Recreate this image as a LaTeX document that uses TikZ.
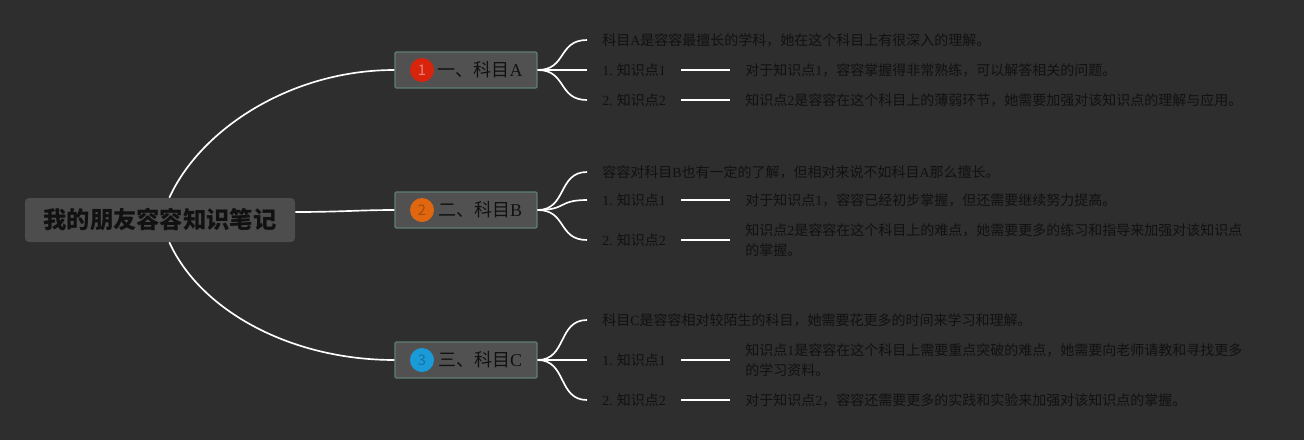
\documentclass[tikz,border=0pt]{standalone}
\usepackage{fontspec}
\setmainfont{Noto Sans CJK SC}
\newfontfamily\lat{Liberation Serif}
\newcommand\lt[1]{{\lat #1}}
\definecolor{bg}{HTML}{2E2E2E}
\definecolor{rootfill}{HTML}{4D4D4D}
\definecolor{boxfill}{HTML}{515151}
\definecolor{boxline}{HTML}{5E7F72}
\definecolor{txt}{HTML}{111111}
\definecolor{cA}{HTML}{D8230D}
\definecolor{cB}{HTML}{E0660F}
\definecolor{cC}{HTML}{1A9BD8}
\tikzset{
  rootbox/.style={fill=rootfill, rounded corners=3pt, minimum width=202.5pt, minimum height=33pt, font=\fontsize{17.5pt}{20pt}\selectfont\bfseries, text=txt},
  subbox/.style={fill=boxfill, draw=boxline, line width=0.9pt, rounded corners=1pt, minimum width=106.5pt, minimum height=27pt},
  subtext/.style={font=\fontsize{13.5pt}{16pt}\selectfont, text=txt, inner sep=0pt},
  badge/.style={circle, minimum size=18pt, inner sep=0pt, font=\fontsize{11pt}{12pt}\selectfont},
  leaf/.style={anchor=west, inner xsep=11.25pt, inner ysep=2pt, align=left, font=\fontsize{10.5pt}{15pt}\selectfont, text=txt},
  conn/.style={white, line width=1.25pt},
}
\begin{document}
\begin{tikzpicture}[x=0.75pt,y=-0.75pt]
\useasboundingbox (0,0) rectangle (1304,440);
\fill[bg] (0,0) rectangle (1304,440);

\node[rootbox] (root) at (160,220) {我的朋友容容知识笔记};

% branch boxes
\node[subbox] (bA) at (466,70) {};
\node[subbox] (bB) at (466,210) {};
\node[subbox] (bC) at (466,360) {};
\node[badge, fill=cA, text=cA!55!white] (nA) at (422,70) {1};
\node[badge, fill=cB, text=cB!75!black] (nB) at (422,210) {2};
\node[badge, fill=cC, text=cC!75!black] (nC) at (422,360) {3};
\node[subtext] (tA) at (480,70) {一、科目\lt{A}};
\node[subtext] (tB) at (480,210) {二、科目\lt{B}};
\node[subtext] (tC) at (480,360) {三、科目\lt{C}};

% root connectors
\draw[conn] ([xshift=7pt]root.north) .. controls (200,130) and (290,70) .. (bA.west);
\draw[conn] ([yshift=6pt]root.east) .. controls (340,212) and (360,210) .. (bB.west);
\draw[conn] ([xshift=7pt]root.south) .. controls (200,310) and (290,360) .. (bC.west);

% A leaves
\node[leaf] (a0) at (587,40) {科目\lt{A}是容容最擅长的学科，她在这个科目上有很深入的理解。};
\node[leaf] (a1) at (587,70) {\lt{1.} 知识点\lt{1}};
\node[leaf] (a2) at (587,100) {\lt{2.} 知识点\lt{2}};
\node[leaf] (a1d) at (730,70) {对于知识点\lt{1}，容容掌握得非常熟练，可以解答相关的问题。};
\node[leaf] (a2d) at (730,100) {知识点\lt{2}是容容在这个科目上的薄弱环节，她需要加强对该知识点的理解与应用。};

% B leaves
\node[leaf] (b0) at (587,172) {容容对科目\lt{B}也有一定的了解，但相对来说不如科目\lt{A}那么擅长。};
\node[leaf] (b1) at (587,200) {\lt{1.} 知识点\lt{1}};
\node[leaf] (b2) at (587,240) {\lt{2.} 知识点\lt{2}};
\node[leaf] (b1d) at (730,200) {对于知识点\lt{1}，容容已经初步掌握，但还需要继续努力提高。};
\node[leaf] (b2d) at (730,240) {知识点\lt{2}是容容在这个科目上的难点，她需要更多的练习和指导来加强对该知识点\\的掌握。};

% C leaves
\node[leaf] (c0) at (587,320) {科目\lt{C}是容容相对较陌生的科目，她需要花更多的时间来学习和理解。};
\node[leaf] (c1) at (587,360) {\lt{1.} 知识点\lt{1}};
\node[leaf] (c2) at (587,400) {\lt{2.} 知识点\lt{2}};
\node[leaf] (c1d) at (730,360) {知识点\lt{1}是容容在这个科目上需要重点突破的难点，她需要向老师请教和寻找更多\\的学习资料。};
\node[leaf] (c2d) at (730,400) {对于知识点\lt{2}，容容还需要更多的实践和实验来加强对该知识点的掌握。};

% branch to leaf curves
\foreach \b/\l in {bA/a0,bA/a1,bA/a2,bB/b0,bB/b1,bB/b2,bC/c0,bC/c1,bC/c2}{
  \draw[conn] (\b.east) .. controls ([xshift=22pt]\b.east) and ([xshift=-22pt]\l.west) .. (\l.west);
}
% label to description lines
\foreach \l/\d in {a1/a1d,a2/a2d,b1/b1d,b2/b2d,c1/c1d,c2/c2d}{
  \draw[conn] (\l.east) -- (\l.east -| \d.west);
}
\end{tikzpicture}
\end{document}
